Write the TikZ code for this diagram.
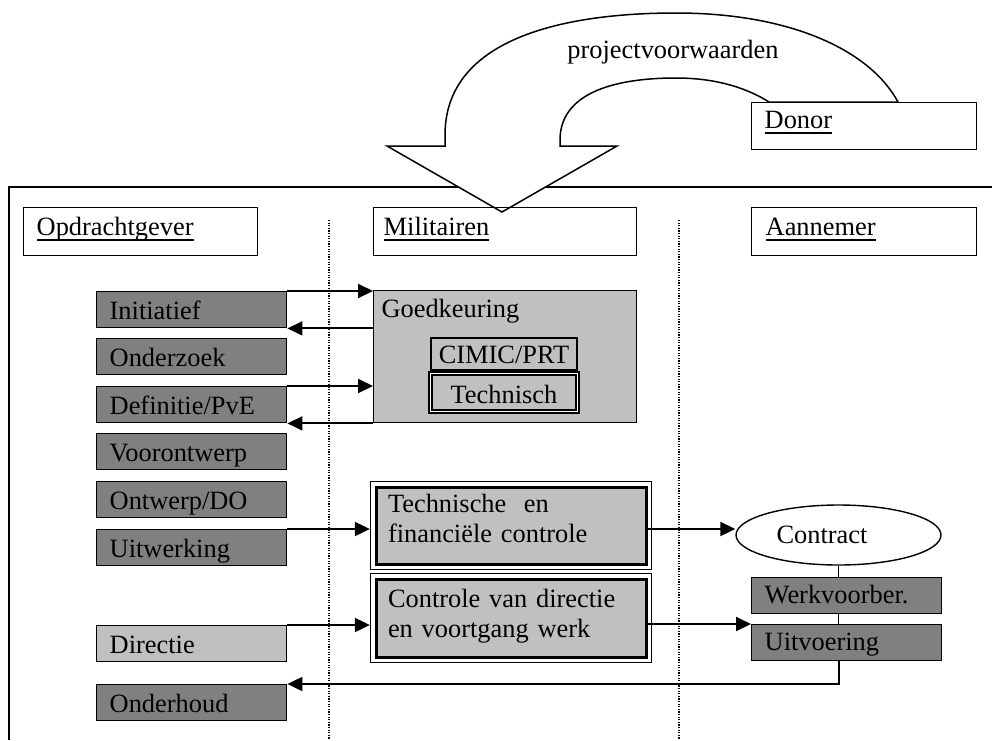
\documentclass[tikz,border=0pt]{standalone}
\usepackage{fontspec}
\setmainfont{Liberation Serif}
\usetikzlibrary{arrows.meta,shapes.geometric,fit}
\definecolor{dkgray}{HTML}{808080}
\definecolor{ltgray}{HTML}{C0C0C0}
% underline set just below the baseline
\newcommand\undl[1]{\sbox0{#1}\rlap{\rule[-4.8pt]{\wd0}{1.4pt}}\usebox0}
\begin{document}
\begin{tikzpicture}[x=1pt, y=-1pt,
  font=\fontsize{26.4}{30}\selectfont,
  box/.style={draw, line width=1.4pt, rectangle, inner sep=0pt},
  hdr/.style={box, anchor=north west, minimum height=48pt, align=left,
    text height=19pt, text depth=11pt},
  phase/.style={box, anchor=north west, fill=dkgray, minimum width=190pt,
    minimum height=36pt, text width=164pt, align=left,
    text height=19pt, text depth=0pt},
  work/.style={box, anchor=north west, fill=dkgray, minimum width=190pt,
    minimum height=36pt, text width=164pt, align=left,
    text height=19pt, text depth=3pt},
  ctrl/.style={box, line width=3pt, fill=ltgray, minimum width=270pt,
    text width=246pt, align=left},
  ctrlout/.style={draw, line width=1.3pt, inner sep=4pt},
  conn/.style={line width=2pt, -{Triangle[length=15pt,width=14pt]}},
  plain/.style={line width=1.4pt},
  sep/.style={line width=1.1pt, dash pattern=on 1.1pt off 1.5pt},
]
\useasboundingbox (0,0) rectangle (992,740);

% outer frame
\draw[line width=1.8pt] (9,740) -- (9,187) -- (992,187);

% lane separators
\draw[sep] (329,220) -- (329,740);
\draw[sep] (679,220) -- (679,740);

% curved arrow from the donor
\draw[line width=1.5pt, fill=white, line join=miter]
  (445,146) -- (387,146) -- (502,212) -- (617,146) -- (560,146) -- (560,140)
  .. controls (560,95) and (610,78) .. (676,78)
  .. controls (720,78) and (750,90) .. (769,102) -- (898,102)
  .. controls (870,50) and (790,13) .. (676,13)
  .. controls (560,13) and (445,40) .. (445,135) -- cycle;
\node[anchor=base] (pv) at (673,58) {projectvoorwaarden};

% lane headers
\node[hdr, minimum width=234pt, text width=208pt] (hopd) at (23,207) {\undl{Opdrachtgever}};
\node[hdr, minimum width=263pt, text width=243pt] (hmil) at (373,207) {\undl{Militairen}};
\node[hdr, minimum width=225pt, text width=197pt] (hann) at (751,207) {\undl{Aannemer}};
\node[hdr, fill=white, minimum height=47pt, minimum width=225pt, text width=199pt,
  text depth=14pt] (donor) at (751,102) {\undl{Donor}};

% phases of the client
\node[phase] (ini) at (96,291) {Initiatief};
\node[phase] (ond) at (96,338) {Onderzoek};
\node[phase] (def) at (96,386) {Definitie/PvE};
\node[phase] (voo) at (96,433) {Voorontwerp};
\node[phase] (ont) at (96,481) {Ontwerp/DO};
\node[phase] (uit) at (96,529) {Uitwerking};
\node[phase, fill=ltgray] (dir) at (96,625) {Directie};
\node[phase] (onh) at (96,684) {Onderhoud};

% approval by the military
\node[box, anchor=north west, fill=ltgray, minimum width=263pt, minimum height=132pt] (goed) at (373,290) {};
\node[anchor=base west] (goedlbl) at (378,317) {Goedkeuring};
\node[box, line width=1.2pt, fill=ltgray, minimum width=146pt, minimum height=32pt,
  text height=18pt, text depth=0pt] (cimic) at (504,354) {CIMIC/PRT};
\node[box, fill=ltgray, line width=1.9pt, double=white, double distance=1.8pt,
  minimum width=147pt, minimum height=38pt, text height=21pt, text depth=0pt]
  (tech) at (504,392.5) {Technisch};

% control boxes
\node[ctrl, minimum height=77pt] (tfc) at (511,525.5)
  {Technische\ \ en\\financiële controle\rule[-13.5pt]{0pt}{0pt}};
\node[ctrlout, fit=(tfc)] (tfcout) {};
\node[ctrl, minimum height=78pt] (ctl) at (511,618)
  {Controle van directie\\en voortgang werk\rule[-8.5pt]{0pt}{0pt}};
\node[ctrlout, fit=(ctl)] (ctlout) {};

% contractor
\node[ellipse, draw, line width=1.4pt, minimum width=205pt, minimum height=60pt,
  inner sep=0pt, text height=17.5pt, text depth=1.5pt] (contract) at (838.5,535)
  {Contract\hspace*{33pt}};
\node[work] (wv) at (751,577) {Werkvoorber.};
\node[work] (uitv) at (751,624) {Uitvoering};

% connectors
\draw[conn] (ini.north east) -- (ini.north east -| goed.west);
\draw[conn] (goed.west |- ini.south) -- (ini.south east);
\draw[conn] (def.north east) -- (def.north east -| goed.west);
\draw[conn] (goed.south west) -- (goed.south west -| def.east);
\draw[conn] (uit.north east) -- (uit.north east -| tfcout.west);
\draw[conn] (uit.north east -| tfc.east) -- (uit.north east -| contract.west);
\draw[conn] (dir.north east) -- (dir.north east -| ctlout.west);
\draw[conn] (uitv.north west -| ctl.east) -- (uitv.north west);
\draw[plain] (contract.south) -- (contract.south |- wv.north);
\draw[plain] (contract.south |- wv.south) -- (contract.south |- uitv.north);
\draw[conn] (contract.south |- uitv.south) |- (onh.north east);
\end{tikzpicture}
\end{document}
